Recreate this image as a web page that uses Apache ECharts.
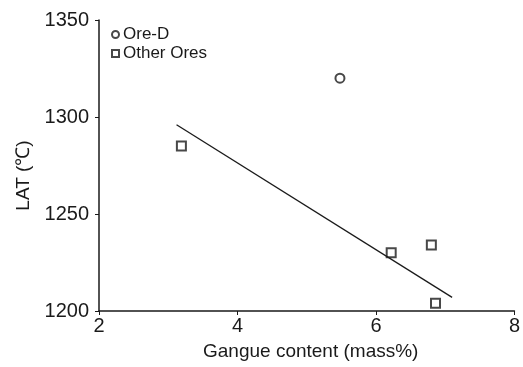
<!DOCTYPE html>
<html>
<head>
<meta charset="utf-8">
<script src="https://cdn.jsdelivr.net/npm/echarts@6/dist/echarts.min.js"></script>
<style>
  html, body { margin: 0; padding: 0; background: #fff; }
  #chart { width: 523px; height: 367px; }
</style>
</head>
<body>
<div id="chart"></div>
<script>
// values
const oreD = [[5.48, 1320]];
const otherOres = [[3.19, 1285], [6.22, 1230], [6.80, 1234], [6.86, 1204]];
const fitLine = [[3.12, 1296], [7.10, 1207]];

const font = 'Liberation Sans, Arial, sans-serif';
const ink = '#1a1a1a';

let chart = echarts.init(document.getElementById('chart'));

let option = {
  backgroundColor: '#fff',
  animation: false,
  grid: { left: 99, right: 6, top: 20, bottom: 56 },
  legend: {
    data: ['Ore-D', 'Other Ores'],
    orient: 'vertical',
    left: 106,
    top: 21,
    itemWidth: 7,
    itemHeight: 7,
    itemGap: 2,
    textStyle: { fontFamily: font, fontSize: 17, color: ink, padding: [0, 0, 0, -1] }
  },
  xAxis: {
    type: 'value',
    min: 2, max: 8, interval: 2,
    name: 'Gangue content (mass%)',
    nameLocation: 'middle',
    nameGap: 31,
    nameTextStyle: { fontFamily: font, fontSize: 19, color: ink, padding: [0, 0, 0, 8] },
    axisLine: { lineStyle: { color: ink, width: 1.5 } },
    axisTick: { length: 4, lineStyle: { color: ink } },
    axisLabel: { fontFamily: font, fontSize: 20, color: ink, margin: 5 },
    splitLine: { show: false }
  },
  yAxis: {
    type: 'value',
    min: 1200, max: 1350, interval: 50,
    name: 'LAT (℃)',
    nameLocation: 'middle',
    nameGap: 66,
    nameRotate: 90,
    nameTextStyle: { fontFamily: font, fontSize: 19, color: ink, padding: [0, 20, 0, 0] },
    axisLine: { show: true, lineStyle: { color: ink, width: 1.5 } },
    axisTick: { show: true, length: 4, lineStyle: { color: ink } },
    axisLabel: {
      fontFamily: font, fontSize: 20, color: ink, margin: 10,
      formatter: function (v) { return String(v); }
    },
    splitLine: { show: false }
  },
  series: [
    {
      name: 'Ore-D',
      type: 'scatter',
      symbol: 'circle',
      symbolSize: 9,
      itemStyle: { color: '#fff', borderColor: ink, borderWidth: 2 },
      data: oreD
    },
    {
      name: 'Other Ores',
      type: 'scatter',
      symbol: 'rect',
      symbolSize: 9,
      itemStyle: { color: '#fff', borderColor: ink, borderWidth: 2 },
      data: otherOres
    },
    {
      name: 'fit',
      type: 'line',
      showSymbol: false,
      lineStyle: { color: ink, width: 1.3 },
      data: fitLine
    }
  ]
};

chart.setOption(option);
</script>
</body>
</html>
